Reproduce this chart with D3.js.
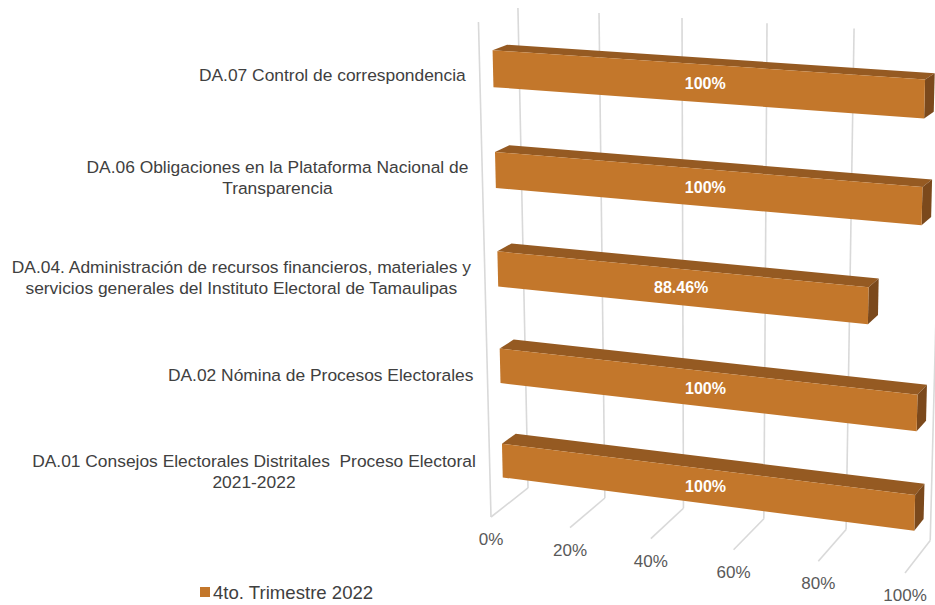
<!DOCTYPE html>
<html>
<head>
<meta charset="utf-8">
<script src="https://cdn.jsdelivr.net/npm/d3@7"></script>
<style>
  body { margin: 0; background: #fff; }
  svg { display: block; font-family: "Liberation Sans", Arial, sans-serif; }
  .cat { white-space: pre; }
</style>
</head>
<body>
<svg id="chart" width="935" height="605"></svg>
<script>
// categories from top to bottom, as in the picture ("\n" = where the label wraps)
var categories = [
    'DA.07 Control de correspondencia',
    'DA.06 Obligaciones en la Plataforma Nacional de\nTransparencia',
    'DA.04. Administración de recursos financieros, materiales y\nservicios generales del Instituto Electoral de Tamaulipas',
    'DA.02 Nómina de Procesos Electorales',
    'DA.01 Consejos Electorales Distritales  Proceso Electoral\n2021-2022'
];
var values = [100, 100, 88.46, 100, 100];
var tickValues = [0, 20, 40, 60, 80, 100];
var seriesName = '4to. Trimestre 2022';

var config = {
    front: '#c3772b',
    top: '#955a22',
    side: '#7b491c',
    grid: '#d9d9d9',
    barFront: 0.33,   // depth where the bar's front face sits (0 = front, 1 = back wall)
    barBack: 0.70
};

// perspective camera: world (x value, y height, z depth) -> screen
var cam = {
    u: [362.7, -38.57, 54.37, 491],
    v: [23.5, -496.2, -12.96, 517],
    w: [-0.0567, -0.0544, 0.0329, 1]
};

function project(x, y, z) {
    var w = cam.w[0] * x + cam.w[1] * y + cam.w[2] * z + cam.w[3];
    return [
        (cam.u[0] * x + cam.u[1] * y + cam.u[2] * z + cam.u[3]) / w,
        (cam.v[0] * x + cam.v[1] * y + cam.v[2] * z + cam.v[3]) / w
    ];
}

var xScale = d3.scaleLinear().domain([0, 100]).range([0, 1]);
var yScale = d3.scaleBand()
    .domain(categories.slice().reverse())
    .range([0, 1])
    .paddingInner(0.64)
    .paddingOuter(0.32);

var svg = d3.select('#chart');
var poly = d3.line();

function face(pts) {
    return poly(pts.map(function(p) { return project(p[0], p[1], p[2]); })) + 'Z';
}

// gridlines: back wall, floor, and the front edge of the side wall
var grid = svg.append('g')
    .attr('stroke', config.grid)
    .attr('stroke-width', 1.6)
    .attr('fill', 'none');

tickValues.forEach(function(t) {
    var x = xScale(t);
    grid.append('path').attr('d', poly([project(x, 0, 1), project(x, 1, 1)]));
    grid.append('path').attr('d', poly([project(x, 0, 0), project(x, 0, 1)]));
});
grid.append('path').attr('d', poly([project(0, 0, 0), project(0, 1, 0)]));

// bars
var data = categories.map(function(c, i) {
    return { cat: c, value: values[i] };
});

var bars = svg.append('g')
    .selectAll('g')
    .data(data)
    .join('g');

bars.each(function(d) {
    var g = d3.select(this);
    var x0 = 0, x1 = xScale(d.value);
    var y0 = yScale(d.cat), y1 = y0 + yScale.bandwidth();
    var z0 = config.barFront, z1 = config.barBack;

    g.append('path')
        .attr('fill', config.top)
        .attr('d', face([[x0, y1, z0], [x1, y1, z0], [x1, y1, z1], [x0, y1, z1]]));

    g.append('path')
        .attr('fill', config.side)
        .attr('d', face([[x1, y0, z0], [x1, y0, z1], [x1, y1, z1], [x1, y1, z0]]));

    g.append('path')
        .attr('fill', config.front)
        .attr('d', face([[x0, y0, z0], [x1, y0, z0], [x1, y1, z0], [x0, y1, z0]]));

    var c = project(x1 / 2, (y0 + y1) / 2, z0);
    g.append('text')
        .attr('x', c[0] + 3)
        .attr('y', c[1])
        .attr('dy', '0.35em')
        .attr('text-anchor', 'middle')
        .attr('fill', '#fff')
        .attr('font-weight', 'bold')
        .attr('font-size', 16)
        .text(d.value + '%');
});

// value axis labels under the front edge of the floor
svg.append('g')
    .selectAll('text')
    .data(tickValues)
    .join('text')
    .attr('x', function(t) { return project(xScale(t), 0, 0)[0]; })
    .attr('y', function(t) { return project(xScale(t), 0, 0)[1] + 22; })
    .attr('dy', '0.35em')
    .attr('text-anchor', 'middle')
    .attr('fill', '#595959')
    .attr('font-size', 17)
    .text(function(t) { return t + '%'; });

// category labels, right aligned to the side wall, lines centred in the block
var lineHeight = 21;
svg.append('g')
    .selectAll('g')
    .data(categories)
    .join('g')
    .each(function(c) {
        var g = d3.select(this);
        var yc = yScale(c) + yScale.bandwidth() / 2;
        var p = project(0, yc, 0);
        var right = p[0] - 14;
        var lines = c.split('\n');
        var texts = lines.map(function(line, i) {
            return g.append('text')
                .attr('class', 'cat')
                .attr('y', p[1] + 1 + (i - (lines.length - 1) / 2) * lineHeight)
                .attr('dy', '0.35em')
                .attr('fill', '#404040')
                .attr('font-size', 17.4)
                .text(line);
        });
        var widest = d3.max(texts, function(t) { return t.node().getComputedTextLength(); });
        texts.forEach(function(t) {
            t.attr('x', right - widest / 2).attr('text-anchor', 'middle');
        });
    });

// legend
var legend = svg.append('g').attr('transform', 'translate(200,592)');
legend.append('rect')
    .attr('x', 0).attr('y', -5)
    .attr('width', 10).attr('height', 10)
    .attr('fill', config.front);
legend.append('text')
    .attr('x', 13)
    .attr('dy', '0.35em')
    .attr('fill', '#404040')
    .attr('font-size', 18.6)
    .text(seriesName);
</script>
</body>
</html>
